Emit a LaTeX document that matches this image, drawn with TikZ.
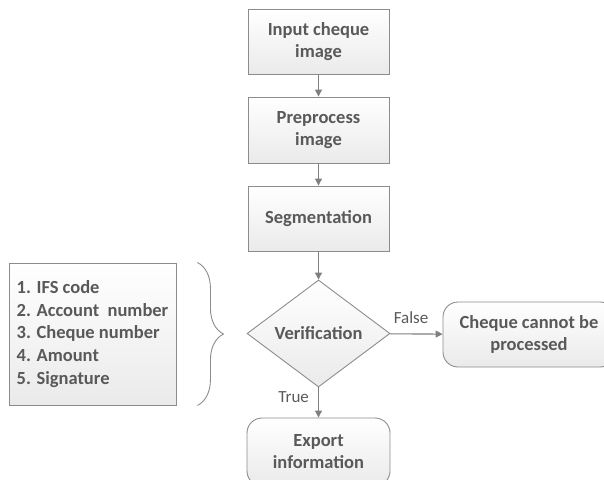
\documentclass[tikz,border=0pt]{standalone}
\usepackage{fontspec}
\setmainfont{Carlito}
\usetikzlibrary{shapes.geometric,arrows.meta,decorations.pathreplacing}

\definecolor{boxline}{HTML}{8C8C8C}
\definecolor{boxfill}{HTML}{EAEAEA}
\definecolor{txt}{HTML}{595959}
\definecolor{flowgray}{HTML}{7F7F7F}

\begin{document}
\begin{tikzpicture}[x=1pt, y=-1pt,
  box/.style={draw=boxline, line width=0.9pt, top color=white, bottom color=boxfill,
    text=txt, font=\bfseries\fontsize{18.5}{22}\selectfont, align=center,
    minimum width=141, minimum height=65, inner sep=0},
  endbox/.style={box, rounded corners=15},
  decision/.style={box, diamond, minimum width=143, minimum height=107},
  flow/.style={draw=flowgray, line width=1.1pt, -{Triangle[width=7pt,length=7pt]}},
  lbl/.style={text=txt, font=\fontsize{17}{20}\selectfont, inner sep=0}]
\useasboundingbox (0,0) rectangle (604,479);
\clip (0,0) rectangle (604,479);

\node[box] (input) at (318.5,42) {Input cheque\\image};
\node[box, minimum height=66] (prep) at (318.5,130) {Preprocess\\image};
\node[box] (seg) at (318.5,218.5) {Segmentation};
\node[decision] (verif) at (318.5,333.5) {Verification};
\node[endbox, minimum width=172] (nope) at (529,334.5) {Cheque cannot be\\processed};
\node[endbox, minimum width=143, minimum height=68] (export) at (318.5,452) {Export\\information};

\node[box, align=left, minimum width=167, minimum height=142,
  font=\bfseries\fontsize{18.5}{22.7}\selectfont]
  (list) at (92.5,334)
  {1. IFS code\\2. Account\ \ number\\3. Cheque number\\4. Amount\\5. Signature};

\draw[flow] (input) -- (prep);
\draw[flow] (prep) -- (seg);
\draw[flow] (seg) -- (verif);
\draw[flow] (verif) -- node[lbl, above=10pt, pos=0.4] {False} (nope);
\draw[flow] (verif) -- node[lbl, left=9pt, pos=0.32] {True} (export);

\draw[draw=boxline, line width=0.9pt, decorate, decoration={brace, amplitude=26pt}]
  ([xshift=21]list.north east) -- ([xshift=21]list.south east);
\end{tikzpicture}
\end{document}
